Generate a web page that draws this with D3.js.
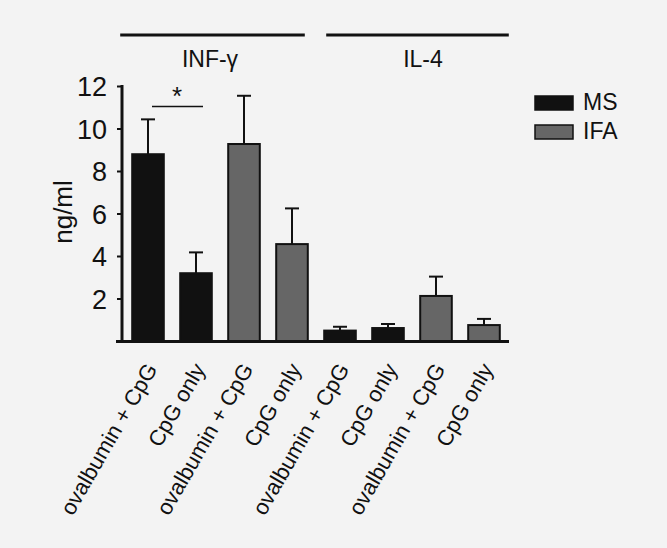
<!DOCTYPE html>
<html>
<head>
<meta charset="utf-8">
<script src="https://cdn.jsdelivr.net/npm/d3@7"></script>
<style>
  body { margin: 0; background: #f3f3f3; }
  svg { display: block; font-family: "Liberation Sans", Arial, sans-serif; }
</style>
</head>
<body>
<div id="chart"></div>
<script>
// data
var categories = ["ovalbumin + CpG", "CpG only", "ovalbumin + CpG", "CpG only",
                  "ovalbumin + CpG", "CpG only", "ovalbumin + CpG", "CpG only"];
var series = ["MS", "MS", "IFA", "IFA", "MS", "MS", "IFA", "IFA"];
var values = [8.79, 3.19, 9.27, 4.56, 0.49, 0.61, 2.12, 0.75];
var errors = [10.43, 4.17, 11.54, 6.24, 0.67, 0.80, 3.03, 1.04]; // top of error bar
var yTicks = [2, 4, 6, 8, 10, 12];
var groups = [
  { name: "INF-\u03b3", from: 0, to: 3 },
  { name: "IL-4", from: 4, to: 7 }
];
var legendNames = ["MS", "IFA"];

var colors = { MS: "#111111", IFA: "#666666" };

var W = 667, H = 548;
var svg = d3.select("#chart").append("svg")
  .attr("width", W).attr("height", H);

svg.append("rect").attr("width", W).attr("height", H).attr("fill", "#f3f3f3");

var x = d3.scaleBand()
  .domain(d3.range(categories.length))
  .range([124, 508])
  .paddingInner(0.3)
  .paddingOuter(0.15);

var y = d3.scaleLinear().domain([0, 12]).range([341, 86]);

var bw = x.bandwidth();

// error bars (behind bars)
var eb = svg.append("g").attr("stroke", "#111").attr("stroke-width", 2);
eb.selectAll("line.v").data(values).enter().append("line")
  .attr("x1", function(d, i) { return x(i) + bw / 2; })
  .attr("x2", function(d, i) { return x(i) + bw / 2; })
  .attr("y1", function(d) { return y(d); })
  .attr("y2", function(d, i) { return y(errors[i]); });
eb.selectAll("line.c").data(errors).enter().append("line")
  .attr("x1", function(d, i) { return x(i) + bw / 2 - 7; })
  .attr("x2", function(d, i) { return x(i) + bw / 2 + 7; })
  .attr("y1", function(d) { return y(d); })
  .attr("y2", function(d) { return y(d); });

// bars
svg.append("g").selectAll("rect").data(values).enter().append("rect")
  .attr("x", function(d, i) { return x(i) + 1; })
  .attr("width", bw - 2)
  .attr("y", function(d) { return y(d); })
  .attr("height", function(d) { return y(0) - y(d); })
  .attr("fill", function(d, i) { return colors[series[i]]; })
  .attr("stroke", "#111")
  .attr("stroke-width", 2);

// y axis
var yAxis = svg.append("g")
  .attr("transform", "translate(122,0)")
  .call(d3.axisLeft(y).tickValues(yTicks).tickSize(5).tickSizeOuter(0).tickPadding(10));
yAxis.select(".domain").remove();
yAxis.append("line")
  .attr("x1", 0).attr("x2", 0)
  .attr("y1", y(12) - 1).attr("y2", y(0))
  .attr("stroke", "#111").attr("stroke-width", 3);
yAxis.selectAll(".tick line").attr("stroke", "#111").attr("stroke-width", 2);
yAxis.selectAll(".tick text")
  .attr("fill", "#111")
  .style("font-size", "27px")
  .attr("dy", "0.36em");

// x axis line
svg.append("line")
  .attr("x1", 116).attr("x2", 509)
  .attr("y1", y(0) + 0.5).attr("y2", y(0) + 0.5)
  .attr("stroke", "#111").attr("stroke-width", 3);

// y label
svg.append("text")
  .attr("transform", "translate(72," + 212 + ") rotate(-90)")
  .attr("text-anchor", "middle")
  .style("font-size", "26px")
  .attr("fill", "#111")
  .text("ng/ml");

// x labels
svg.append("g").selectAll("text").data(categories).enter().append("text")
  .attr("transform", function(d, i) {
    return "translate(" + (x(i) + bw / 2 + 10) + ",369) rotate(-60)";
  })
  .attr("text-anchor", "end")
  .style("font-size", "22px")
  .attr("fill", "#111")
  .text(function(d) { return d; });

// group headers
var gOff = [[-11, -4, -10], [3, 8, 11]];
groups.forEach(function(g, k) {
  var x0 = x(g.from) + gOff[k][0];
  var x1 = x(g.to) + bw + gOff[k][1];
  svg.append("line")
    .attr("x1", x0).attr("x2", x1)
    .attr("y1", 35).attr("y2", 35)
    .attr("stroke", "#111").attr("stroke-width", 3);
  svg.append("text")
    .attr("x", (x(g.from) + x(g.to) + bw) / 2 + gOff[k][2])
    .attr("y", 67)
    .attr("text-anchor", "middle")
    .style("font-size", "23px")
    .attr("fill", "#111")
    .text(g.name);
});

// significance bracket
svg.append("line")
  .attr("x1", x(0) + bw / 2 + 4).attr("x2", x(1) + bw / 2 + 7)
  .attr("y1", 106.5).attr("y2", 106.5)
  .attr("stroke", "#111").attr("stroke-width", 1.5);
svg.append("text")
  .attr("x", (x(0) + x(1)) / 2 + bw / 2 + 5)
  .attr("y", 105)
  .attr("text-anchor", "middle")
  .style("font-size", "26px")
  .attr("fill", "#111")
  .text("*");

// legend
var lg = svg.append("g").attr("transform", "translate(535,96)");
legendNames.forEach(function(n, i) {
  lg.append("rect")
    .attr("x", 0).attr("y", i * 29)
    .attr("width", 38).attr("height", 14)
    .attr("fill", colors[n])
    .attr("stroke", "#111").attr("stroke-width", 1.5);
  lg.append("text")
    .attr("x", 48).attr("y", i * 29 + 14)
    .style("font-size", "23px")
    .attr("fill", "#111")
    .text(n);
});
</script>
</body>
</html>
